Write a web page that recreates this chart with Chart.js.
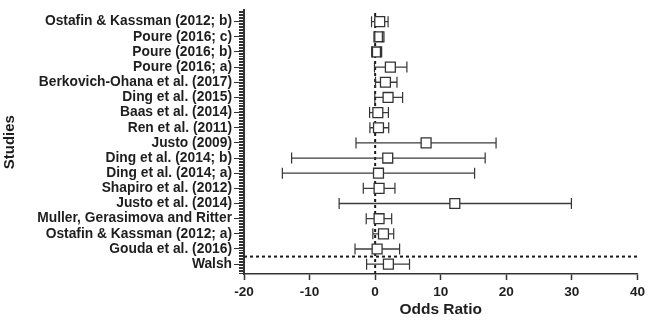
<!DOCTYPE html>
<html>
<head>
<meta charset="utf-8">
<script src="https://cdn.jsdelivr.net/npm/chart.js@4"></script>
<style>
  html, body { margin: 0; padding: 0; background: #fff; }
  #wrap { width: 649px; height: 322px; }
</style>
</head>
<body>
<div id="wrap"><canvas id="c" width="649" height="322"></canvas></div>
<script>
// Studies listed top to bottom
const studies = [
  'Ostafin & Kassman (2012; b)',
  'Poure (2016; c)',
  'Poure (2016; b)',
  'Poure (2016; a)',
  'Berkovich-Ohana et al. (2017)',
  'Ding et al. (2015)',
  'Baas et al. (2014)',
  'Ren et al. (2011)',
  'Justo (2009)',
  'Ding et al. (2014; b)',
  'Ding et al. (2014; a)',
  'Shapiro et al. (2012)',
  'Justo et al. (2014)',
  'Muller, Gerasimova and Ritter',
  'Ostafin & Kassman (2012; a)',
  'Gouda et al. (2016)',
  'Walsh'
];
const oddsRatio = [0.7, 0.58, 0.23, 2.32, 1.57, 1.97, 0.41, 0.51, 7.77, 1.92, 0.51, 0.6, 12.15, 0.6, 1.27, 0.3, 2.02];
const ciLow    = [-0.55, -0.05, -0.4, -0.1, 0.05, -0.05, -0.85, -0.8, -2.92, -12.74, -14.15, -1.81, -5.49, -1.36, -0.35, -3.07, -1.3];
const ciHigh   = [1.97, 1.1, 0.8, 4.84, 3.33, 4.19, 2.02, 2.07, 18.44, 16.78, 15.17, 3.02, 29.93, 2.52, 2.83, 3.73, 5.24];
const xTicks = [-20, -10, 0, 10, 20, 30, 40];
const separatorY = 1.5;   // dashed line between Gouda and Walsh
const nullLine = 0;       // vertical dashed reference at 0

const X_MIN = -20, X_MAX = 40;
const Y_MIN = 0.35, Y_MAX = 17.75;
const MINOR_PER_ROW = 10;
const n = studies.length;
const rowY = i => n - i;

const boxes = [], caps = [], whiskers = [];
studies.forEach((s, i) => {
  const y = rowY(i);
  boxes.push({x: oddsRatio[i], y});
  caps.push({x: ciLow[i], y}, {x: ciHigh[i], y});
  whiskers.push({x: ciLow[i], y}, {x: ciHigh[i], y}, {x: null, y: null});
});

const isMajor = v => Math.abs(v - Math.round(v)) < 1e-6 && Math.round(v) >= 1 && Math.round(v) <= n;
const INK = '#333333';
const TEXT = '#1e1e1e';
const FAM = '"Liberation Sans", Arial, Helvetica, sans-serif';

new Chart(document.getElementById('c'), {
  type: 'scatter',
  data: {
    datasets: [
      { label: 'caps', data: caps, pointStyle: 'line', rotation: 90, pointRadius: 5.5, pointHoverRadius: 5.5,
        borderColor: INK, borderWidth: 1.2, showLine: false, order: 0 },
      { label: 'OR', data: boxes, pointStyle: 'rect', pointRadius: 7, pointHoverRadius: 7,
        backgroundColor: '#ffffff', borderColor: INK, borderWidth: 1.3, showLine: false, order: 1 },
      { label: 'ci', type: 'line', data: whiskers, borderColor: '#3c3c3c', borderWidth: 1.3, pointRadius: 0,
        spanGaps: false, fill: false, order: 2 },
      { label: 'zero', type: 'line', data: [{x: nullLine, y: Y_MIN}, {x: nullLine, y: Y_MAX}],
        borderColor: '#1a1a1a', borderWidth: 2, borderDash: [3, 3], pointRadius: 0, fill: false, order: 3 },
      { label: 'sep', type: 'line', data: [{x: X_MIN, y: separatorY}, {x: X_MAX, y: separatorY}],
        borderColor: '#1a1a1a', borderWidth: 2, borderDash: [3, 3], pointRadius: 0, fill: false, order: 3 }
    ]
  },
  options: {
    responsive: false,
    animation: false,
    devicePixelRatio: 1,
    layout: { padding: { top: 1.5, left: 0, right: 0, bottom: 0 } },
    plugins: { legend: { display: false }, tooltip: { enabled: false } },
    scales: {
      x: {
        type: 'linear', min: X_MIN, max: X_MAX,
        afterFit: s => { s.height = 48; },
        afterBuildTicks: s => { s.ticks = xTicks.map(v => ({value: v})); },
        ticks: { color: TEXT, padding: 4, font: { family: FAM, size: 13.6, weight: 'bold' } },
        grid: { drawOnChartArea: false, tickLength: 6, tickColor: INK, tickWidth: 1.5 },
        border: { color: INK, width: 1.5 },
        title: { display: true, text: 'Odds Ratio', color: TEXT, padding: { top: 2, bottom: 3 },
                 font: { family: FAM, size: 15.5, weight: 'bold' } }
      },
      y: {
        type: 'linear', min: Y_MIN, max: Y_MAX,
        afterFit: s => { s.width = 244; },
        afterBuildTicks: s => {
          const t = [];
          for (let k = Math.ceil(Y_MIN * MINOR_PER_ROW); k <= Math.floor(Y_MAX * MINOR_PER_ROW); k++) {
            t.push({value: k / MINOR_PER_ROW});
          }
          s.ticks = t;
        },
        ticks: {
          autoSkip: false, padding: 2, color: TEXT,
          font: { family: FAM, size: 13.8, weight: 'bold' },
          callback: v => isMajor(v) ? studies[n - Math.round(v)] : ''
        },
        grid: {
          drawOnChartArea: false, tickLength: 10, tickColor: INK, tickWidth: 1,
          tickBorderDash: ctx => (ctx.tick && isMajor(ctx.tick.value)) ? [] : [0, 5, 6, 100]
        },
        border: { color: INK, width: 2 },
        title: { display: true, text: 'Studies', color: TEXT, padding: { top: 1, bottom: 0 },
                 font: { family: FAM, size: 15, weight: 'bold' } }
      }
    }
  }
});
</script>
</body>
</html>
